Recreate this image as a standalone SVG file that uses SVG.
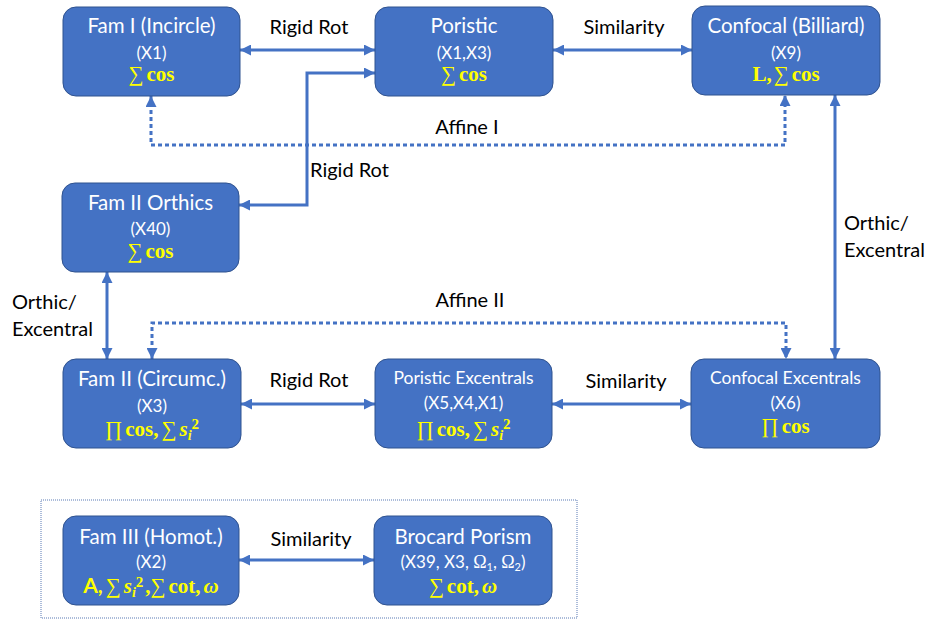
<svg xmlns="http://www.w3.org/2000/svg" width="928" height="620" viewBox="0 0 928 620">
<defs>
<marker id="ah" viewBox="0 0 10 10" refX="10" refY="5" markerWidth="11" markerHeight="11" markerUnits="userSpaceOnUse" orient="auto-start-reverse">
<path d="M0,0 L10,5 L0,10 z" fill="#4472c4"/>
</marker>
<style>
.node rect{fill:#4472c4;stroke:#2f528f;stroke-width:1}
.t{font-family:Lato,"Liberation Sans",sans-serif;fill:#ffffff;text-anchor:middle}
.t1{font-size:20.5px}
.t1s{font-size:17.5px}
.t2{font-size:17px}
.m{font-family:"Liberation Serif","DejaVu Serif",serif;font-size:21px;fill:#ffff00;text-anchor:middle;font-weight:bold}
.m .s{font-weight:normal}
.lab{font-family:Lato,"Liberation Sans",sans-serif;font-size:20px;fill:#000000}
.c{fill:none;stroke:#4472c4;stroke-width:3;marker-start:url(#ah);marker-end:url(#ah)}
.d{stroke-dasharray:4 3}
</style>
</defs>
<rect x="41" y="500" width="536" height="118" fill="none" stroke="#5a7bb5" stroke-width="1" stroke-dasharray="1 1"/>
<g id="connectors">
<path class="c" d="M240,50 H375"/>
<path class="c" d="M553,50 H692"/>
<path class="c" d="M239,205 H307 V73 H375"/>
<path class="c d" d="M151,96 V145 H785 V95"/>
<path class="c" d="M835,95 V359"/>
<path class="c" d="M107,272 V359"/>
<path class="c d" d="M152,359 V323 H786 V359"/>
<path class="c" d="M241,404 H375"/>
<path class="c" d="M552,404 H691"/>
<path class="c" d="M239,560 H374"/>
</g>
<g id="labels">
<text class="lab" x="309" y="34" text-anchor="middle">Rigid Rot</text>
<text class="lab" x="624" y="34" text-anchor="middle">Similarity</text>
<text class="lab" x="467" y="134" text-anchor="middle">Affine I</text>
<text class="lab" x="310" y="177">Rigid Rot</text>
<text class="lab" x="844" y="230">Orthic/</text>
<text class="lab" x="844" y="257">Excentral</text>
<text class="lab" x="12" y="309">Orthic/</text>
<text class="lab" x="12" y="336">Excentral</text>
<text class="lab" x="470" y="307" text-anchor="middle">Affine II</text>
<text class="lab" x="309" y="387" text-anchor="middle">Rigid Rot</text>
<text class="lab" x="626" y="388" text-anchor="middle">Similarity</text>
<text class="lab" x="311" y="546" text-anchor="middle">Similarity</text>
</g>
<g id="famI" class="node">
<rect x="63" y="7" width="177" height="89" rx="13"/>
<text class="t t1" x="151.5" y="33">Fam I (Incircle)</text>
<text class="t t2" x="151.5" y="59">(X1)</text>
<text class="m" x="151.5" y="81"><tspan class="s">∑</tspan><tspan dx="3">cos</tspan></text>
</g>
<g id="poristic" class="node">
<rect x="375" y="7" width="178" height="89" rx="13"/>
<text class="t t1" x="464" y="33">Poristic</text>
<text class="t t2" x="464" y="59">(X1,X3)</text>
<text class="m" x="464" y="81"><tspan class="s">∑</tspan><tspan dx="3">cos</tspan></text>
</g>
<g id="confocal" class="node">
<rect x="692" y="6" width="188" height="89" rx="13"/>
<text class="t t1" x="786" y="33">Confocal (Billiard)</text>
<text class="t t2" x="786" y="59">(X9)</text>
<text class="m" x="786" y="81">L,<tspan class="s" dx="2">∑</tspan><tspan dx="3">cos</tspan></text>
</g>
<g id="famIIorthics" class="node">
<rect x="62" y="183" width="177" height="89" rx="13"/>
<text class="t t1" x="150.5" y="210">Fam II Orthics</text>
<text class="t t2" x="150.5" y="235">(X40)</text>
<text class="m" x="150.5" y="258"><tspan class="s">∑</tspan><tspan dx="3">cos</tspan></text>
</g>
<g id="famIIcircumc" class="node">
<rect x="63" y="359" width="178" height="89" rx="13"/>
<text class="t t1" x="152" y="386">Fam II (Circumc.)</text>
<text class="t t2" x="152" y="412">(X3)</text>
<text class="m" x="152" y="436"><tspan class="s">∏</tspan><tspan dx="3">cos,</tspan><tspan class="s" dx="3">∑</tspan><tspan font-style="italic" dx="3">s</tspan><tspan font-style="italic" font-size="14" dy="4">i</tspan><tspan font-size="15" dy="-11">2</tspan></text>
</g>
<g id="poristicExcentrals" class="node">
<rect x="375" y="359" width="177" height="89" rx="13"/>
<text class="t t1s" x="463.5" y="384">Poristic Excentrals</text>
<text class="t t2" x="463.5" y="409">(X5,X4,X1)</text>
<text class="m" x="463.5" y="436"><tspan class="s">∏</tspan><tspan dx="3">cos,</tspan><tspan class="s" dx="3">∑</tspan><tspan font-style="italic" dx="3">s</tspan><tspan font-style="italic" font-size="14" dy="4">i</tspan><tspan font-size="15" dy="-11">2</tspan></text>
</g>
<g id="confocalExcentrals" class="node">
<rect x="691" y="359" width="189" height="89" rx="13"/>
<text class="t t1s" x="785.5" y="384">Confocal Excentrals</text>
<text class="t t2" x="785.5" y="409">(X6)</text>
<text class="m" x="785.5" y="433"><tspan class="s">∏</tspan><tspan dx="3">cos</tspan></text>
</g>
<g id="famIII" class="node">
<rect x="63" y="516" width="176" height="89" rx="13"/>
<text class="t t1" x="151" y="544">Fam III (Homot.)</text>
<text class="t t2" x="151" y="568">(X2)</text>
<text class="m" x="151" y="593"><tspan font-family="Lato,'Liberation Sans',sans-serif">A,</tspan><tspan class="s" dx="3">∑</tspan><tspan font-style="italic" dx="3">s</tspan><tspan font-style="italic" font-size="14" dy="4">i</tspan><tspan font-size="15" dy="-10">2</tspan><tspan dy="6" dx="2">,</tspan><tspan class="s">∑</tspan><tspan dx="3">cot,</tspan><tspan font-style="italic" dx="3">ω</tspan></text>
</g>
<g id="brocard" class="node">
<rect x="374" y="516" width="178" height="89" rx="13"/>
<text class="t t1" x="463" y="544">Brocard Porism</text>
<text class="t t2" x="463" y="568">(X39, X3, <tspan font-family="'Liberation Serif',serif" font-size="18">Ω</tspan><tspan font-size="11" dy="3">1</tspan><tspan dy="-3">, </tspan><tspan font-family="'Liberation Serif',serif" font-size="18">Ω</tspan><tspan font-size="11" dy="3">2</tspan><tspan dy="-3">)</tspan></text>
<text class="m" x="463" y="593"><tspan class="s">∑</tspan><tspan dx="3">cot,</tspan><tspan font-style="italic" dx="3">ω</tspan></text>
</g>
</svg>
